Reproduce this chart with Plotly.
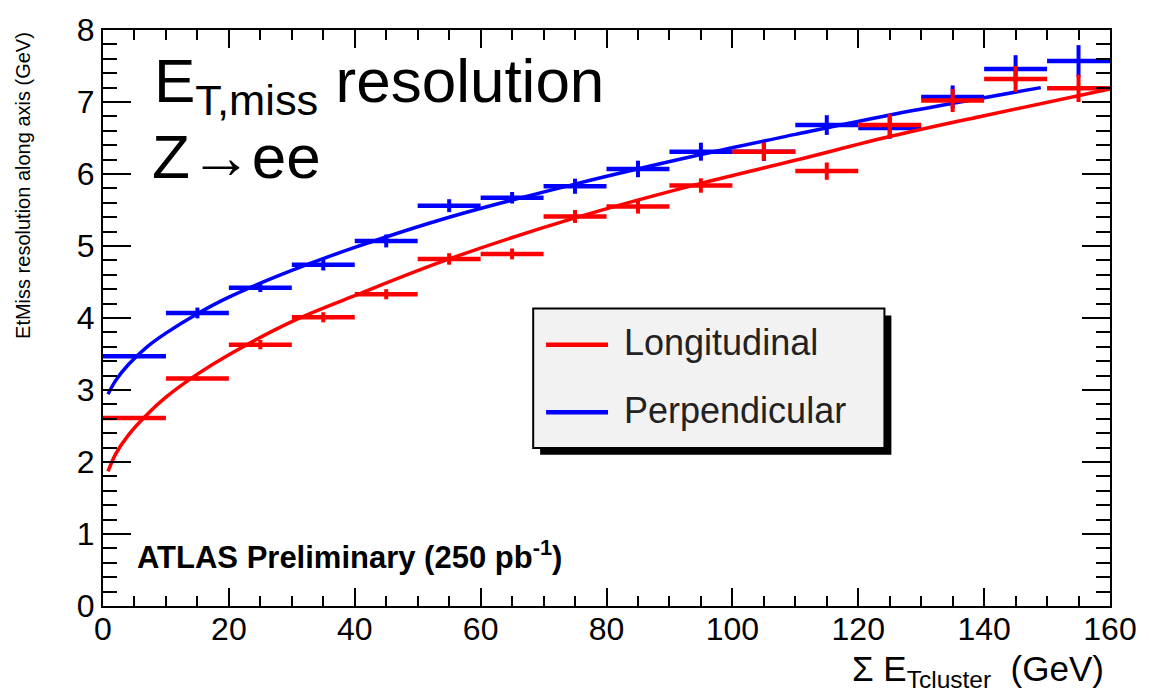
import plotly.graph_objects as go

# ---- data ----
bin_centers = [5, 15, 25, 35, 45, 55, 65, 75, 85, 95, 105, 115, 125, 135, 145, 155]
bin_halfwidth = [5] * 16

long_vals = [2.61, 3.16, 3.63, 4.01, 4.33, 4.82, 4.89, 5.41, 5.55, 5.84, 6.31, 6.04, 6.68, 7.02, 7.32, 7.19]
long_errs = [0.02, 0.03, 0.065, 0.07, 0.07, 0.08, 0.075, 0.09, 0.10, 0.10, 0.125, 0.12, 0.15, 0.16, 0.18, 0.19]

perp_vals = [3.47, 4.07, 4.42, 4.74, 5.07, 5.56, 5.67, 5.83, 6.07, 6.31, 6.31, 6.68, 6.64, 7.07, 7.46, 7.57]
perp_errs = [0.02, 0.075, 0.06, 0.08, 0.09, 0.09, 0.08, 0.105, 0.115, 0.125, 0.13, 0.137, 0.15, 0.16, 0.19, 0.22]

long_fit_x = [0.8, 2, 4, 7, 10, 15, 20, 30, 40, 55, 75, 95, 110, 125, 140, 160]
long_fit_y = [1.87, 2.11, 2.37, 2.66, 2.90, 3.22, 3.49, 3.95, 4.31, 4.82, 5.39, 5.87, 6.19, 6.52, 6.81, 7.18]

perp_fit_x = [0.8, 2, 4, 7, 10, 15, 20, 30, 40, 55, 75, 95, 110, 125, 140, 149]
perp_fit_y = [2.94, 3.13, 3.35, 3.60, 3.79, 4.06, 4.29, 4.66, 4.98, 5.40, 5.86, 6.27, 6.55, 6.82, 7.06, 7.20]

x_ticks = [0, 20, 40, 60, 80, 100, 120, 140, 160]
y_ticks = [0, 1, 2, 3, 4, 5, 6, 7, 8]

RED = "#ff0000"
BLUE = "#0000ff"
FONT = "Liberation Sans, Arial, sans-serif"

fig = go.Figure()

def hist_trace(vals, errs, color):
    return go.Scatter(
        x=bin_centers, y=vals, mode="markers",
        marker=dict(size=1, color=color),
        error_x=dict(type="data", array=bin_halfwidth, symmetric=True,
                     color=color, thickness=4.5, width=0),
        error_y=dict(type="data", array=errs, symmetric=True,
                     color=color, thickness=4, width=0),
        showlegend=False, hoverinfo="skip",
    )

fig.add_trace(hist_trace(perp_vals, perp_errs, BLUE))
fig.add_trace(go.Scatter(x=perp_fit_x, y=perp_fit_y, mode="lines",
                         line=dict(color=BLUE, width=3.5, shape="spline"),
                         showlegend=False))
fig.add_trace(hist_trace(long_vals, long_errs, RED))
fig.add_trace(go.Scatter(x=long_fit_x, y=long_fit_y, mode="lines",
                         line=dict(color=RED, width=3.5, shape="spline"),
                         showlegend=False))

# ---- custom legend box (ROOT style with shadow) ----
L = dict(x0=0.4272, x1=0.7760, y0=0.2744, y1=0.5163)
dx, dy = 0.0069, 0.012
fig.add_shape(type="rect", xref="paper", yref="paper",
              x0=L["x0"] + dx, x1=L["x1"] + dx, y0=L["y0"] - dy, y1=L["y1"] - dy,
              fillcolor="black", line=dict(width=0))
fig.add_shape(type="rect", xref="paper", yref="paper",
              x0=L["x0"], x1=L["x1"], y0=L["y0"], y1=L["y1"],
              fillcolor="#f2f2f2", line=dict(color="black", width=2))
legend_items = [("Longitudinal", RED, 0.4534), ("Perpendicular", BLUE, 0.3362)]
for name, col, yy in legend_items:
    fig.add_shape(type="line", xref="paper", yref="paper",
                  x0=0.4400, x1=0.5015, y0=yy, y1=yy,
                  line=dict(color=col, width=4.5))
    fig.add_annotation(xref="paper", yref="paper", x=0.5154, y=yy + 0.004,
                       text=name, showarrow=False, xanchor="left", yanchor="middle",
                       font=dict(family=FONT, size=36, color="#222222"))

# ---- text labels ----
fig.add_annotation(xref="paper", yref="paper", x=0.049, y=0.905,
                   text="E<sub>T,miss</sub> resolution", showarrow=False,
                   xanchor="left", yanchor="middle",
                   font=dict(family=FONT, size=62, color="black"))
fig.add_annotation(xref="paper", yref="paper", x=0.047, y=0.78,
                   text="Z\u2192ee", showarrow=False,
                   xanchor="left", yanchor="middle",
                   font=dict(family=FONT, size=62, color="black"))
fig.add_annotation(xref="paper", yref="paper", x=0.0317, y=0.089,
                   text="<b>ATLAS Preliminary (250 pb<sup>-1</sup>)</b>", showarrow=False,
                   xanchor="left", yanchor="middle",
                   font=dict(family=FONT, size=31, color="black"))
fig.add_annotation(xref="paper", yref="paper", x=0.996, y=-0.112,
                   text="\u03a3 E<sub>Tcluster</sub>  (GeV)", showarrow=False,
                   xanchor="right", yanchor="middle",
                   font=dict(family=FONT, size=35, color="black"))
fig.add_annotation(xref="paper", yref="paper", x=-0.080, y=1.0,
                   text="EtMiss resolution along axis (GeV)", showarrow=False,
                   textangle=-90, xanchor="center", yanchor="top",
                   font=dict(family=FONT, size=20, color="black"))

axis_common = dict(
    showline=True, linecolor="black", linewidth=2, mirror="allticks",
    ticks="inside", tickcolor="black", tickwidth=2,
    showgrid=False, zeroline=False,
    tickfont=dict(family=FONT, size=32, color="black"),
)

fig.update_layout(
    width=1149, height=695,
    margin=dict(l=103, r=37, t=23, b=89),
    paper_bgcolor="white", plot_bgcolor="white",
    showlegend=False,
    xaxis=dict(range=[0, 160], tickvals=x_ticks, ticktext=[str(v) for v in x_ticks],
               ticklen=18, ticklabelstandoff=-6,
               minor=dict(dtick=5, tick0=0, ticklen=10, ticks="inside",
                          tickcolor="black", tickwidth=2),
               **axis_common),
    yaxis=dict(range=[0, 8], tickvals=y_ticks, ticktext=[str(v) for v in y_ticks],
               ticklen=28,
               minor=dict(dtick=0.2, tick0=0, ticklen=14, ticks="inside",
                          tickcolor="black", tickwidth=2),
               **axis_common),
)

fig.write_html("out.html")
